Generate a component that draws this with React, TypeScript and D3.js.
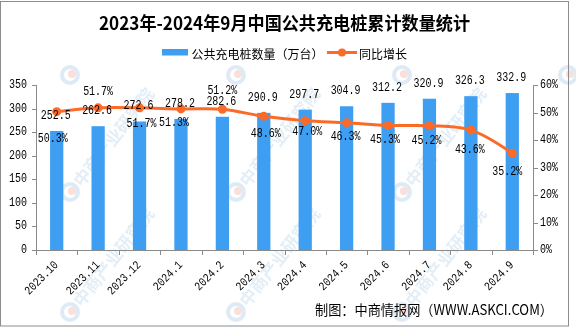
import React from "react";
import * as d3 from "d3";

const categories = ["2023.10", "2023.11", "2023.12", "2024.1", "2024.2", "2024.3", "2024.4", "2024.5", "2024.6", "2024.7", "2024.8", "2024.9"];
const chargers = [252.5, 262.6, 272.6, 278.2, 282.6, 290.9, 297.7, 304.9, 312.2, 320.9, 326.3, 332.9];
const growth = [50.3, 51.7, 51.7, 51.3, 51.2, 48.6, 47.0, 46.3, 45.3, 45.2, 43.6, 35.2];
const leftTicks = [0, 50, 100, 150, 200, 250, 300, 350];
const rightTicks = [0, 10, 20, 30, 40, 50, 60];

const title = "2023年-2024年9月中国公共充电桩累计数量统计";
const barName = "公共充电桩数量（万台）";
const lineName = "同比增长";
const source = "制图：中商情报网（WWW.ASKCI.COM）";

// label placement (layout only)
const pctOffsets: [number, number][] = [
  [-4, 27], [0, -16], [2, 16], [-7, 14], [0, -18], [2, 18],
  [2, 11], [-1, 14], [-3, 15], [-3, 15], [-1, 20], [-5, 19],
];

const W = 576, H = 327;
const L = 36, R = 533, T = 85, B = 250;
const BAR = "#3E9EF2";
const LINE = "#FC6A28";
const AXIS = "#8a8a8a";
const NUM_FONT = "'Liberation Mono', 'DejaVu Sans Mono', monospace";
const CJK = "'Noto Sans CJK SC', 'Noto Sans', sans-serif";

function Num({ x, y, text, anchor = "middle", rotate }: { x: number; y: number; text: string; anchor?: string; rotate?: number }) {
  return (
    <text
      x={x}
      y={y}
      textAnchor={anchor as any}
      dominantBaseline={rotate ? undefined : "central"}
      fontFamily={NUM_FONT}
      fontSize={12}
      textLength={text.length * 6}
      lengthAdjust="spacingAndGlyphs"
      fill="#000"
      transform={rotate ? `rotate(${rotate},${x},${y})` : undefined}
    >
      {text}
    </text>
  );
}

export default function App() {
  const x = d3.scaleBand<string>().domain(categories).range([L, R]).paddingInner(0.68).paddingOuter(0.34);
  const step = x.step();
  const cx = (c: string) => (x(c) as number) + x.bandwidth() / 2;
  const yL = d3.scaleLinear().domain([0, 350]).range([B, T]);
  const yR = d3.scaleLinear().domain([0, 60]).range([B, T]);

  const linePath = d3
    .line<number>()
    .x((_, i) => cx(categories[i]))
    .y((d) => yR(d))
    .curve(d3.curveCatmullRom.alpha(0.5))(growth) as string;

  const wmX = [70, 236, 402];
  const wmY = [192, 312];

  return (
    <svg width={W} height={H} style={{ position: "absolute", left: 0, top: 0, background: "#fff" }}>
      <rect x={0} y={0} width={W} height={H} fill="#fff" />
      {/* watermark */}
      <g opacity={0.5}>
        {wmY.map((wy, r) =>
          wmX.map((wx, c) => (
            <g key={`wm${r}-${c}`}>
              <circle cx={wx} cy={wy} r={8} fill="none" stroke="#bcd6ec" strokeWidth={4} />
              <circle cx={wx + 2} cy={wy - 1} r={4} fill="#f3c2b4" />
              <text
                x={wx + 12}
                y={wy - 4}
                fontFamily={CJK}
                fontWeight="bold"
                fontSize={17}
                fill="#c6dcee"
                transform={`rotate(-52,${wx + 12},${wy - 4})`}
              >
                中商产业研究院
              </text>
            </g>
          ))
        )}
        {[70, 236, 402, 568].map((wx) => (
          <g key={`wl${wx}`}>
            <circle cx={wx} cy={75} r={8} fill="none" stroke="#bcd6ec" strokeWidth={4} />
            <circle cx={wx + 2} cy={74} r={4} fill="#f3c2b4" />
          </g>
        ))}
      </g>
      <rect x={0.5} y={1.5} width={568} height={324.5} fill="none" stroke="#8c8c8c" strokeWidth={1} />

      {/* title */}
      <text x={284.5} y={22} textAnchor="middle" dominantBaseline="central" fontFamily={CJK} fontWeight="bold" fontSize={18} textLength={371} lengthAdjust="spacingAndGlyphs" fill="#000">
        {title}
      </text>

      {/* legend */}
      <rect x={162} y={49} width={26} height={6.5} fill={BAR} />
      <text x={191.5} y={53} dominantBaseline="central" fontFamily={CJK} fontSize={12} fill="#000">{barName}</text>
      <line x1={327} x2={357} y1={52.5} y2={52.5} stroke={LINE} strokeWidth={3} />
      <circle cx={342} cy={52.5} r={4} fill={LINE} />
      <text x={359} y={53} dominantBaseline="central" fontFamily={CJK} fontSize={12} fill="#000">{lineName}</text>

      {/* bars */}
      {categories.map((c, i) => (
        <rect key={c} x={x(c)} y={yL(chargers[i])} width={x.bandwidth()} height={B - yL(chargers[i])} fill={BAR} />
      ))}

      {/* axes */}
      <line x1={L + 0.5} x2={L + 0.5} y1={T} y2={B} stroke={AXIS} />
      {leftTicks.map((t) => (
        <g key={`l${t}`}>
          <line x1={L - 4} x2={L} y1={Math.round(yL(t)) + 0.5} y2={Math.round(yL(t)) + 0.5} stroke={AXIS} />
          <Num x={27} y={yL(t)} text={String(t)} anchor="end" />
        </g>
      ))}
      <line x1={R + 0.5} x2={R + 0.5} y1={T} y2={B} stroke={AXIS} />
      {rightTicks.map((t) => (
        <g key={`r${t}`}>
          <line x1={R} x2={R + 5} y1={Math.round(yR(t)) + 0.5} y2={Math.round(yR(t)) + 0.5} stroke={AXIS} />
          <Num x={540} y={yR(t)} text={`${t}%`} anchor="start" />
        </g>
      ))}
      <line x1={L} x2={R + 1} y1={B + 0.5} y2={B + 0.5} stroke={AXIS} />
      {d3.range(categories.length + 1).map((i) => (
        <line key={`xt${i}`} x1={Math.round(L + step * i) + 0.5} x2={Math.round(L + step * i) + 0.5} y1={B} y2={B + 5} stroke={AXIS} />
      ))}
      {categories.map((c) => (
        <Num key={`xl${c}`} x={cx(c) + 2} y={265.5} text={c} anchor="end" rotate={-45} />
      ))}

      {/* line */}
      <path d={linePath} fill="none" stroke={LINE} strokeWidth={3} />
      {growth.map((g, i) => (
        <circle key={`p${i}`} cx={cx(categories[i])} cy={yR(g)} r={4.5} fill={LINE} />
      ))}

      {/* value labels */}
      {categories.map((c, i) => (
        <Num key={`v${c}`} x={cx(c) - 1} y={yL(chargers[i]) - 15} text={chargers[i].toFixed(1)} />
      ))}
      {categories.map((c, i) => (
        <Num key={`g${c}`} x={cx(c) + pctOffsets[i][0]} y={yR(growth[i]) + pctOffsets[i][1]} text={`${growth[i].toFixed(1)}%`} />
      ))}

      {/* source */}
      <text x={315} y={308.5} dominantBaseline="central" fontFamily={CJK} fontSize={14} textLength={238} lengthAdjust="spacingAndGlyphs" fill="#000">
        {source}
      </text>
    </svg>
  );
}
